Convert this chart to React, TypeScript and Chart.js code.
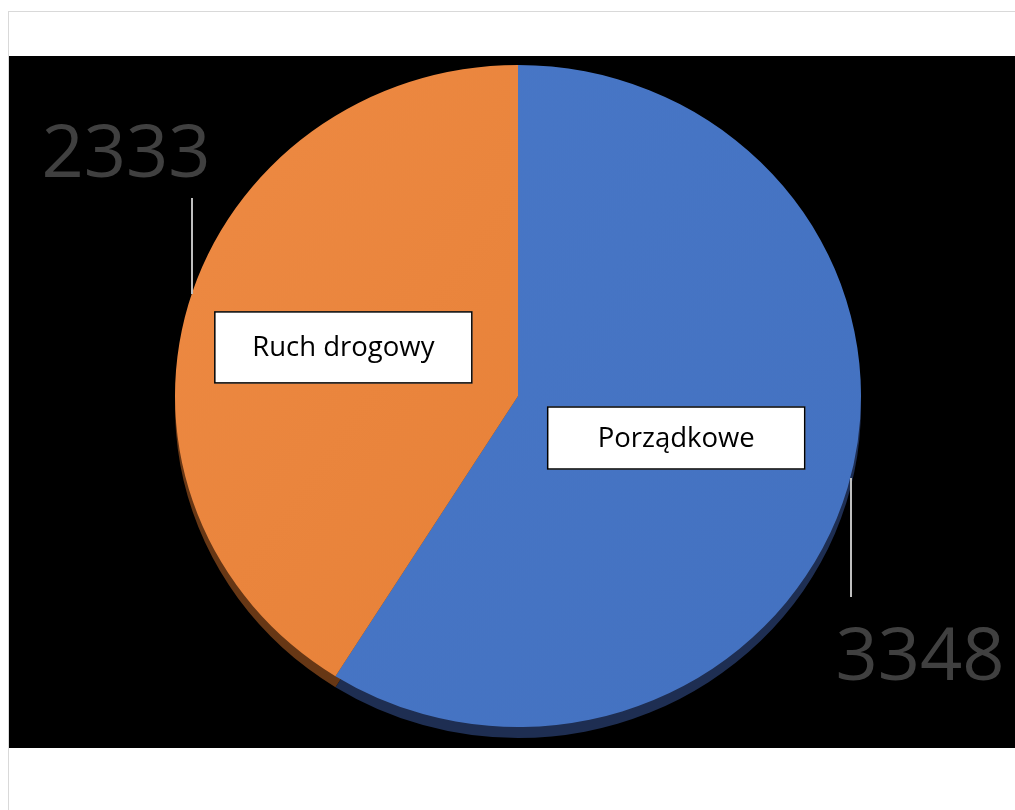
import React, { useEffect, useRef } from "react";
import { Chart, registerables } from "chart.js";

Chart.register(...registerables);

const categories = ["Porządkowe", "Ruch drogowy"];
const values = [3348, 2333];
const valueLabels = ["3348", "2333"];

const topColors = [
  ["#4a79c9", "#4270bf"],
  ["#ef8c46", "#e27a2f"],
];
const sideColors = ["#1e2e52", "#673715"];

const W = 1006;
const H = 692;

export default function App() {
  const ref = useRef<HTMLCanvasElement | null>(null);

  useEffect(() => {
    document.body.style.overflow = "hidden";
    const canvas = ref.current;
    if (!canvas) return;

    const SX = 343 / 337;
    const SY = 331 / 337;
    const DEPTH = 11;

    const pie3d = {
      id: "pie3d",
      beforeDatasetsDraw(chart: any) {
        const ctx = chart.ctx;
        const meta = chart.getDatasetMeta(0);
        const a0 = meta.data[0];
        const cx = a0.x;
        const cy = a0.y;
        ctx.save();
        ctx.translate(cx, cy);
        ctx.scale(SX, SY);
        ctx.translate(-cx, -cy);
        const off = DEPTH / SY;
        meta.data.forEach((arc: any, i: number) => {
          ctx.beginPath();
          ctx.moveTo(cx, cy + off);
          ctx.arc(cx, cy + off, arc.outerRadius, arc.startAngle, arc.endAngle);
          ctx.closePath();
          ctx.fillStyle = sideColors[i];
          ctx.fill();
        });
      },
      afterDatasetsDraw(chart: any) {
        chart.ctx.restore();
      },
      afterDraw(chart: any) {
        const ctx = chart.ctx;
        const meta = chart.getDatasetMeta(0);
        const a0 = meta.data[0];
        const cx = a0.x;
        const cy = a0.y;
        const R = a0.outerRadius;
        const boxK = [0.48, 0.53];
        const boxH = [63, 72];
        const boxDy = [-2, 0];
        meta.data.forEach((arc: any, i: number) => {
          const mid = (arc.startAngle + arc.endAngle) / 2;
          const bx = cx + Math.cos(mid) * R * boxK[i] * SX;
          const by = cy + Math.sin(mid) * R * boxK[i] * SY + boxDy[i];
          const bw = 258;
          const bh = boxH[i];
          ctx.save();
          ctx.fillStyle = "#ffffff";
          ctx.fillRect(bx - bw / 2, by - bh / 2, bw, bh);
          ctx.strokeStyle = "#000000";
          ctx.lineWidth = 1.5;
          ctx.strokeRect(bx - bw / 2 + 0.5, by - bh / 2 + 0.5, bw - 1, bh - 1);
          ctx.fillStyle = "#000000";
          ctx.font = '27.5px "Open Sans", sans-serif';
          ctx.textAlign = "center";
          ctx.textBaseline = "alphabetic";
          ctx.fillText(categories[i], bx, by + 9);
          ctx.restore();
        });

        // value labels with leader lines
        const valPos = [
          { x: 402, y: 284, lx: 333, ly1: 82, ly2: 201 },
          { x: -392, y: -219, lx: -326, ly1: -198, ly2: -102 },
        ];
        valPos.forEach((p, i) => {
          ctx.save();
          ctx.strokeStyle = "#bfbfbf";
          ctx.lineWidth = 2;
          ctx.beginPath();
          ctx.moveTo(cx + p.lx, cy + p.ly1);
          ctx.lineTo(cx + p.lx, cy + p.ly2);
          ctx.stroke();
          ctx.fillStyle = "#404040";
          ctx.font = '74px "Open Sans", sans-serif';
          ctx.textAlign = "center";
          ctx.textBaseline = "alphabetic";
          ctx.fillText(valueLabels[i], cx + p.x, cy + p.y);
          ctx.restore();
        });
      },
    };

    const chart = new Chart(canvas, {
      type: "pie",
      data: {
        labels: categories,
        datasets: [
          {
            data: values,
            borderWidth: 0,
            backgroundColor: (c: any) => {
              const area = c.chart.chartArea;
              const cols = topColors[c.dataIndex % 2];
              if (!area) return cols[0];
              const g = c.chart.ctx.createLinearGradient(area.left, area.top, area.right, area.bottom);
              g.addColorStop(0, cols[0]);
              g.addColorStop(1, cols[1]);
              return g;
            },
          },
        ],
      },
      options: {
        responsive: false,
        animation: false,
        rotation: 0,
        layout: { padding: { top: 3, bottom: 15, left: 12, right: 0 } },
        plugins: {
          legend: { display: false },
          tooltip: { enabled: false },
          title: { display: false },
        },
      },
      plugins: [pie3d],
    } as any);

    return () => chart.destroy();
  }, []);

  return (
    <div
      style={{
        position: "fixed",
        left: 8,
        top: 11,
        width: 1100,
        height: 850,
        border: "1px solid #d9d9d9",
        boxSizing: "border-box",
        background: "#ffffff",
      }}
    >
      <div
        style={{
          position: "absolute",
          left: 0,
          top: 44,
          width: W,
          height: H,
          background: "#000000",
        }}
      >
        <canvas ref={ref} width={W} height={H} style={{ display: "block" }} />
      </div>
    </div>
  );
}
